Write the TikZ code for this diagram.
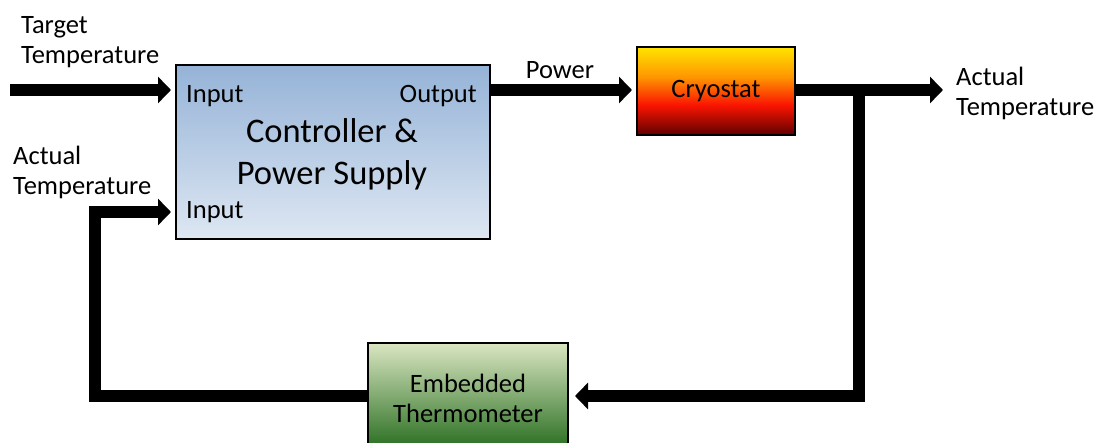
\documentclass[tikz,border=0pt]{standalone}
\usepackage{fontspec}
\setmainfont{Carlito}
\usetikzlibrary{arrows.meta,calc}
\definecolor{ctop}{RGB}{149,179,215}
\definecolor{cbot}{RGB}{222,231,243}
\definecolor{ttop}{RGB}{218,230,194}
\definecolor{tbot}{RGB}{34,105,26}
\definecolor{cyel}{RGB}{255,228,0}
\definecolor{cora}{RGB}{255,150,0}
\definecolor{cred}{RGB}{250,20,0}
\definecolor{cdark}{RGB}{95,0,0}
\pgfdeclareverticalshading{cryoshade}{100bp}{color(0bp)=(cdark); color(25bp)=(cdark); color(42bp)=(cred); color(58bp)=(cora); color(75bp)=(cyel); color(100bp)=(cyel)}
\tikzset{
  blockbox/.style={draw=black, line width=2pt, inner sep=0pt},
  flow/.style={line width=12pt, -{Triangle[length=13pt,width=26pt]}, line cap=butt, line join=miter},
  lbl/.style={font=\fontsize{26.5}{30}\selectfont, inner sep=0pt},
  boxtext/.style={font=\fontsize{26.5}{30}\selectfont},
}
\begin{document}
\begin{tikzpicture}[x=1pt,y=-1pt]
\useasboundingbox (0,0) rectangle (1095,443);
% blocks
\node[blockbox, top color=ctop, bottom color=cbot, minimum width=314pt, minimum height=174pt] (ctrl) at (333,152) {};
\node[blockbox, boxtext, shading=cryoshade, minimum width=158pt, minimum height=88pt] (cryo) at (716,91) {Cryostat};
\node[blockbox, boxtext, top color=ttop, bottom color=tbot, minimum width=200pt, minimum height=110pt, align=center] (therm) at (468,398) {Embedded\\Thermometer};
% texts in controller
\node[lbl, anchor=west] (in1) at (186,96) {Input};
\node[lbl, anchor=east] (out1) at (477,96) {Output};
\node[lbl, anchor=west] (in2) at (186,212) {Input};
\node[font=\fontsize{34.5}{42}\selectfont, align=center, inner sep=0pt] (ctitle) at (332,154) {Controller \&\\Power Supply};
% outside labels
\node[lbl, align=left, anchor=west] (tt) at (21,42) {Target\\Temperature};
\node[lbl, align=left, anchor=west] (at1) at (13,172) {Actual\\Temperature};
\node[lbl] (pw) at (560,70) {Power};
\node[lbl, align=left, anchor=west] (at2) at (956,93) {Actual\\Temperature};
% coordinates
\coordinate (tstart) at (10,90);
\coordinate (oend) at (943,90);
\coordinate (branch) at (859,90);
\coordinate (rdown) at (859,396);
\coordinate (ldown) at (95,396);
\coordinate (lup) at (95,212);
% connectors
\draw[flow] (tstart) -- ($(ctrl.west |- tstart)+(-4,0)$);
\draw[flow] (ctrl.east |- tstart) -- ($(cryo.west |- tstart)+(-4,0)$);
\draw[flow] (cryo.east |- tstart) -- (oend);
\draw[flow] ($(branch)+(0,-6)$) -- (rdown) -- ($(therm.east |- rdown)+(6,0)$);
\draw[flow] (therm.west |- rdown) -- (ldown) -- (lup) -- ($(ctrl.west |- lup)+(-4,0)$);
\end{tikzpicture}
\end{document}
